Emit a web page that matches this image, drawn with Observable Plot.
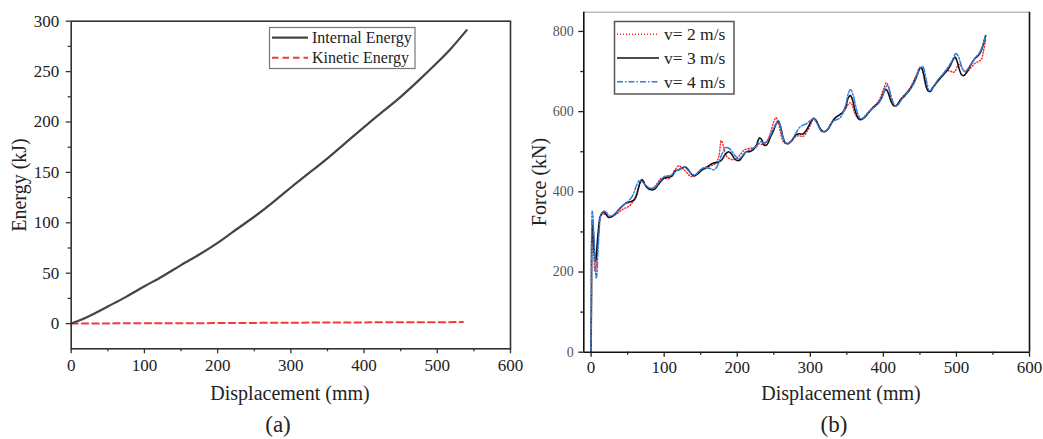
<!DOCTYPE html>
<html>
<head>
<meta charset="utf-8">
<script src="https://cdn.jsdelivr.net/npm/d3@7"></script>
<script src="https://cdn.jsdelivr.net/npm/@observablehq/plot@0.6"></script>
<style>
  html, body { margin: 0; padding: 0; background: #fff; }
  #root { position: relative; width: 1043px; height: 439px; overflow: hidden; background: #fff; }
  #root > svg { position: absolute; top: 0; }
  #root svg, #root svg text, #root svg g { font-family: "Liberation Serif", "DejaVu Serif", serif !important; }
</style>
</head>
<body>
<div id="root"></div>
<script>
// ---------- Panel (a): energy vs displacement ----------
const internalEnergy = [[0,0],[10,2.8],[25,7.6],[50,17],[75,26.5],[100,37],[125,47],[150,58],[175,68.5],[200,80],[220,90.5],[250,106],[275,120],[300,135],[325,149.5],[350,164],[375,179.5],[400,195],[425,210],[450,225],[475,241.5],[500,259],[520,274],[540,291]];
const kineticEnergy = [[0,0],[50,0.2],[100,0.3],[200,0.5],[300,0.9],[400,1.2],[535,1.5]];
const energyXTicks = [0,100,200,300,400,500,600];
const energyXMinor = [50,150,250,350,450,550];
const energyYTicks = [0,50,100,150,200,250,300];
const energyYMinor = [25,75,125,175,225,275];
const energyXDomain = [0,600];
const energyYDomain = [-25,300];
const energyLegend = ["Internal Energy","Kinetic Energy"];

// ---------- Panel (b): force vs displacement ----------
const forceV2 = [[0,0],[0.5,120],[1,260],[2,290],[3,270],[4,230],[5,205],[6,200],[7,215],[9,260],[11,310],[13,338],[16,345],[20,343],[25,338],[30,340],[35,345],[40,352],[45,358],[50,362],[55,370],[60,385],[64,405],[68,425],[71,428],[75,415],[80,408],[85,410],[90,420],[95,432],[100,435],[105,432],[110,440],[115,455],[120,465],[125,458],[130,450],[135,440],[140,438],[146,448],[152,458],[158,462],[164,465],[170,470],[175,490],[178,528],[181,515],[185,490],[190,482],[195,480],[200,485],[205,495],[210,505],[216,508],[222,510],[226,512],[230,520],[234,518],[238,520],[242,530],[246,550],[250,575],[253,585],[256,575],[259,550],[263,525],[267,520],[272,525],[278,535],[284,540],[290,538],[296,552],[301,570],[305,584],[309,575],[313,560],[318,550],[323,555],[328,570],[334,585],[340,592],[345,598],[350,612],[354,622],[357,618],[360,600],[364,586],[368,580],[374,588],[380,600],[386,612],[392,622],[397,640],[401,660],[404,672],[407,662],[410,638],[414,618],[418,616],[423,630],[429,642],[435,655],[441,675],[446,695],[450,710],[453,705],[456,680],[459,660],[463,652],[468,662],[474,675],[480,690],[486,700],[491,702],[495,698],[498,700],[501,712],[504,718],[507,712],[510,702],[514,698],[519,708],[525,720],[530,725],[534,730],[537,750],[540,780]];
const forceV3 = [[0,0],[0.5,150],[1,290],[2,318],[3,300],[4,262],[5,240],[6,228],[7,235],[8,262],[10,305],[12,335],[14,344],[17,350],[20,345],[24,336],[28,338],[33,345],[38,356],[43,365],[48,372],[54,375],[59,380],[62,390],[65,410],[68,428],[70,430],[73,420],[77,410],[82,405],[87,407],[92,418],[97,430],[102,436],[107,437],[111,440],[115,452],[120,455],[125,460],[129,462],[133,455],[137,445],[141,440],[146,445],[152,455],[158,460],[163,468],[168,472],[174,474],[179,480],[183,492],[188,500],[192,495],[196,483],[200,478],[204,480],[208,490],[212,500],[217,500],[222,505],[226,515],[229,530],[231,535],[234,528],[237,516],[241,518],[245,535],[249,550],[253,568],[256,576],[259,565],[262,540],[266,522],[270,520],[275,528],[280,542],[285,545],[290,544],[295,555],[300,572],[304,583],[308,578],[312,562],[316,552],[320,550],[325,558],[330,574],[335,586],[340,592],[345,600],[349,615],[352,635],[355,640],[358,628],[361,605],[365,585],[369,580],[374,585],[380,598],[386,610],[392,620],[397,632],[401,650],[404,655],[407,645],[410,628],[414,615],[418,615],[423,628],[429,640],[435,652],[441,670],[446,690],[450,708],[452,710],[455,695],[458,668],[461,652],[464,650],[468,660],[474,675],[480,688],[486,700],[491,713],[495,728],[498,736],[501,725],[504,705],[507,692],[510,690],[514,698],[519,715],[525,732],[530,740],[534,752],[537,770],[540,790]];
const forceV4 = [[0,0],[0.5,200],[1,330],[1.5,352],[2.5,340],[3.5,300],[5,245],[6,200],[7,185],[8,195],[9,240],[11,300],[13,340],[15,348],[18,352],[21,348],[25,340],[30,342],[35,350],[40,358],[45,368],[50,375],[55,385],[58,395],[62,415],[66,428],[70,425],[74,418],[78,412],[83,408],[88,412],[93,425],[98,435],[103,440],[108,440],[112,445],[117,452],[122,457],[127,462],[132,455],[137,445],[142,442],[147,450],[152,458],[158,460],[163,458],[168,455],[172,462],[176,480],[180,498],[184,510],[189,508],[194,498],[198,488],[202,482],[207,490],[212,500],[218,505],[223,510],[228,518],[232,525],[236,522],[240,525],[245,540],[249,555],[253,570],[256,578],[259,565],[262,540],[266,522],[270,520],[275,530],[280,545],[285,560],[290,566],[295,570],[300,578],[304,582],[308,575],[312,560],[316,550],[321,552],[326,562],[331,576],[336,580],[341,585],[345,598],[349,620],[352,645],[355,655],[358,645],[362,615],[366,590],[370,582],[376,590],[382,603],[388,612],[394,622],[399,640],[403,660],[406,665],[409,650],[412,630],[416,615],[420,617],[425,630],[431,642],[437,656],[443,675],[447,695],[451,710],[454,712],[457,695],[460,668],[463,652],[468,660],[474,678],[480,690],[486,705],[491,718],[495,730],[499,745],[502,740],[505,725],[508,708],[511,700],[515,705],[520,718],[526,735],[531,745],[535,760],[538,778],[540,790]];
const forceXTicks = [0,100,200,300,400,500,600];
const forceXMinor = [50,150,250,350,450,550];
const forceYTicks = [0,200,400,600,800];
const forceYMinor = [100,300,500,700];
const forceXDomain = [-10,600];
const forceYDomain = [0,848];
const forceLegend = ["v= 2 m/s","v= 3 m/s","v= 4 m/s"];

const FONT = '"Liberation Serif", "DejaVu Serif", serif';
const px = d => d[0], py = d => d[1];
const root = document.getElementById("root");

// ----- Plot (a)
const plotA = Plot.plot({
  width: 520, height: 439,
  marginLeft: 70.7, marginRight: 10, marginTop: 20.7, marginBottom: 90.7,
  style: {fontFamily: FONT, fontSize: "17px", color: "#222", background: "transparent", overflow: "visible"},
  x: {domain: energyXDomain},
  y: {domain: energyYDomain},
  marks: [
    Plot.line(kineticEnergy, {x: px, y: py, stroke: "#f23a3a", strokeWidth: 2, strokeDasharray: "6.5,4", curve: "natural"}),
    Plot.line(internalEnergy, {x: px, y: py, stroke: "#444", strokeWidth: 2.2, curve: "natural"}),
    Plot.frame({stroke: "#333", strokeWidth: 1.6}),
    Plot.axisX({ticks: energyXTicks, tickSize: 5, tickPadding: 5, label: null, stroke: "#333", strokeWidth: 1.3}),
    Plot.axisX({ticks: energyXMinor, tickSize: 3, tickFormat: () => "", label: null, stroke: "#333", strokeWidth: 1.3}),
    Plot.axisY({ticks: energyYTicks, tickSize: 5, tickPadding: 7, label: null, stroke: "#333", strokeWidth: 1.3}),
    Plot.axisY({ticks: energyYMinor, tickSize: 3, tickFormat: () => "", label: null, stroke: "#333", strokeWidth: 1.3})
  ]
});
plotA.style.left = "0px";
root.appendChild(plotA);

// ----- Plot (b)
const plotB = Plot.plot({
  width: 523, height: 439,
  marginLeft: 63.3, marginRight: 14, marginTop: 11.7, marginBottom: 87.3,
  style: {fontFamily: FONT, fontSize: "17px", color: "#222", background: "transparent", overflow: "visible"},
  x: {domain: forceXDomain},
  y: {domain: forceYDomain},
  marks: [
    Plot.line(forceV2, {x: px, y: py, stroke: "#ff2020", strokeWidth: 1.4, strokeDasharray: "1,2", curve: "catmull-rom"}),
    Plot.line(forceV3, {x: px, y: py, stroke: "#111", strokeWidth: 1.6, curve: "catmull-rom"}),
    Plot.line(forceV4, {x: px, y: py, stroke: "#2f7de1", strokeWidth: 1.5, strokeDasharray: "6,2,1.5,2", curve: "catmull-rom"}),
    Plot.ruleY([forceYDomain[1]], {stroke: "#bbb", strokeWidth: 1.5}),
    Plot.ruleX([forceXDomain[0], forceXDomain[1]], {stroke: "#111", strokeWidth: 1.6}),
    Plot.ruleY([forceYDomain[0]], {stroke: "#111", strokeWidth: 1.6}),
    Plot.axisX({ticks: forceXTicks, tickSize: 5, tickPadding: 4, label: null, stroke: "#222", strokeWidth: 1.3}),
    Plot.axisX({ticks: forceXMinor, tickSize: 3, tickFormat: () => "", label: null, stroke: "#222", strokeWidth: 1.3}),
    Plot.axisY({ticks: forceYTicks, tickSize: 5, tickPadding: 5, label: null, stroke: "#222", strokeWidth: 1.3}),
    Plot.axisY({ticks: forceYMinor, tickSize: 3, tickFormat: () => "", label: null, stroke: "#222", strokeWidth: 1.3})
  ]
});
plotB.style.left = "520px";
root.appendChild(plotB);

// tick label fonts
function styleTicks(svg, axis, size, color) {
  d3.select(svg).selectAll(`g[aria-label='${axis}-axis tick label']`)
    .attr("font-size", size).style("font-size", size + "px")
    .attr("fill", color).style("fill", color);
  d3.select(svg).selectAll(`g[aria-label='${axis}-axis tick label'] text`)
    .attr("font-size", size).style("font-size", size + "px")
    .style("fill", color);
}
styleTicks(plotA, "x", 17, "#222");
styleTicks(plotA, "y", 17, "#222");
styleTicks(plotB, "x", 17, "#222");
styleTicks(plotB, "y", 14, "#555");

// ----- Overlay: titles, panel labels, legends
const ov = d3.select(root).append("svg")
  .attr("width", 1043).attr("height", 439)
  .style("left", "0px").style("pointer-events", "none")
  .style("font-family", FONT);

function txt(x, y, s, size, opts = {}) {
  const t = ov.append("text").attr("x", x).attr("y", y).text(s)
    .attr("font-size", size).attr("fill", opts.fill || "#222")
    .attr("text-anchor", opts.anchor || "middle");
  if (opts.rotate) t.attr("transform", `rotate(-90 ${x} ${y})`);
  return t;
}
txt(290, 400, "Displacement (mm)", 20);
txt(26, 185, "Energy (kJ)", 20, {rotate: true});
txt(278, 432, "(a)", 23);
txt(841, 400, "Displacement (mm)", 20);
txt(546, 182, "Force (kN)", 20, {rotate: true});
txt(834, 432, "(b)", 23);

// legend (a)
ov.append("rect").attr("x", 269.5).attr("y", 27.5).attr("width", 145.5).attr("height", 41)
  .attr("fill", "#fff").attr("stroke", "#777").attr("stroke-width", 1.2);
const legA = [{c: "#444", d: null, w: 2.2}, {c: "#f23a3a", d: "6.5,4", w: 2}];
legA.forEach((s, i) => {
  const y = 37.7 + i * 20;
  ov.append("line").attr("x1", 272).attr("x2", 308).attr("y1", y).attr("y2", y)
    .attr("stroke", s.c).attr("stroke-width", s.w).attr("stroke-dasharray", s.d);
  txt(312, y + 5.5, energyLegend[i], 16, {anchor: "start"});
});

// legend (b)
ov.append("rect").attr("x", 614.5).attr("y", 21.5).attr("width", 119.5).attr("height", 72.5)
  .attr("fill", "#fff").attr("stroke", "#555").attr("stroke-width", 1.5);
const legB = [{c: "#ff2020", d: "1,2", w: 1.4}, {c: "#111", d: null, w: 1.6}, {c: "#2f7de1", d: "6,2,1.5,2", w: 1.5}];
legB.forEach((s, i) => {
  const y = 34.3 + i * 23.7;
  ov.append("line").attr("x1", 617).attr("x2", 659).attr("y1", y).attr("y2", y)
    .attr("stroke", s.c).attr("stroke-width", s.w).attr("stroke-dasharray", s.d);
  txt(664, y + 6, forceLegend[i], 17.5, {anchor: "start"});
});
</script>
</body>
</html>
